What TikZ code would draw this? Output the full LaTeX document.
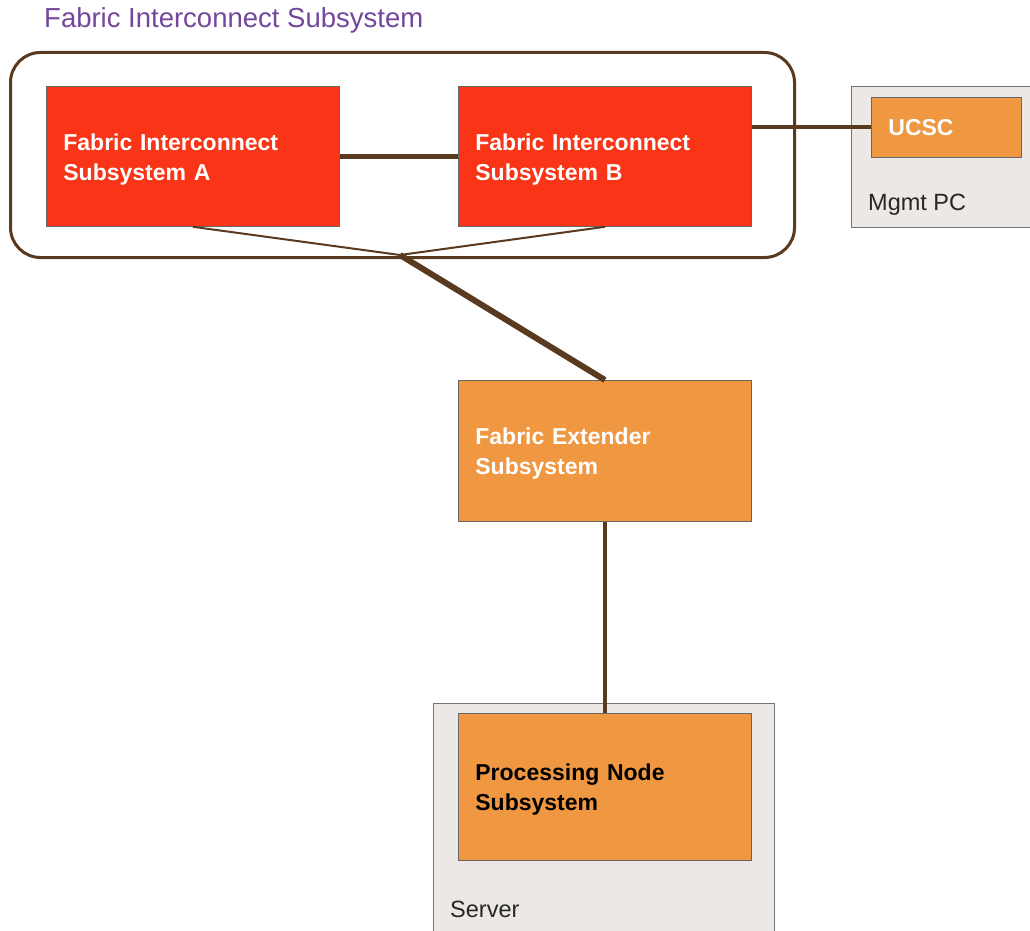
\documentclass[tikz,border=0pt]{standalone}
\usepackage{fontspec}
\setmainfont{Liberation Sans}
\definecolor{fired}{HTML}{FA3416}
\definecolor{orng}{HTML}{EF9741}
\definecolor{brn}{HTML}{5A3A1E}
\definecolor{grayfill}{HTML}{EBE8E5}
\definecolor{purp}{HTML}{74479C}
\newcommand{\wsp}{\spaceskip 9pt\relax}
\newcommand{\lift}{\rule{0pt}{22.8pt}}
\begin{document}
\begin{tikzpicture}[x=1pt,y=-1pt,
  box/.style={anchor=north west, draw=black!60, line width=0.8pt, inner xsep=17pt, inner ysep=0pt, align=left, font=\fontsize{23}{30}\selectfont\bfseries\wsp},
  redbox/.style={box, fill=fired, text=white},
  orbox/.style={box, fill=orng, text=white},
  graybox/.style={anchor=north west, draw=black!55, line width=1pt, fill=grayfill, inner sep=0pt},
  plain/.style={anchor=west, font=\fontsize{23.5}{28}\selectfont, text=black!85, inner sep=0pt},
  link/.style={draw=brn, line width=#1},
]
\useasboundingbox (0,0) rectangle (1030,931);
\fill[white] (0,0) rectangle (1030,931);

\node[anchor=base west, inner sep=0pt, text=purp, font=\fontsize{27.5}{30}\selectfont] (title) at (44,28) {Fabric Interconnect Subsystem};

\node[draw=brn, line width=3pt, rounded corners=30pt, anchor=north west, minimum width=784pt, minimum height=205pt, inner sep=0pt] (cont) at (9,51) {};

\node[graybox, minimum width=179pt, minimum height=141pt] (mgmt) at (851,86) {};
\node[plain] (mgmtlbl) at (868,205) {Mgmt PC};
\node[graybox, minimum width=341pt, minimum height=240pt] (server) at (433,703) {};
\node[plain] (serverlbl) at (450,909) {Server};

\node[redbox, text width=259pt, minimum height=140pt] (A) at (46,86) {\lift Fabric Interconnect\\Subsystem A};
\node[redbox, text width=259pt, minimum height=140pt] (B) at (458,86) {\lift Fabric Interconnect\\Subsystem B};
\node[orbox, text width=116pt, minimum height=60pt] (ucsc) at (871,97) {UCSC};
\node[orbox, text width=259pt, minimum height=141pt] (fex) at (458,380) {\lift Fabric Extender\\Subsystem};
\node[orbox, text=black, text width=259pt, minimum height=147pt] (pn) at (458,713) {\lift Processing Node\\Subsystem};

\coordinate (J) at (400,255);
\draw[link=5pt] (A.east) -- (B.west);
\draw[link=4pt] (B.east |- ucsc.west) -- (ucsc.west);
\draw[link=2pt] (A.south) -- (J);
\draw[link=2pt] (B.south) -- (J);
\draw[link=6pt] (J) -- (fex.north);
\draw[link=4pt] (fex.south) -- (pn.north);
\end{tikzpicture}
\end{document}
